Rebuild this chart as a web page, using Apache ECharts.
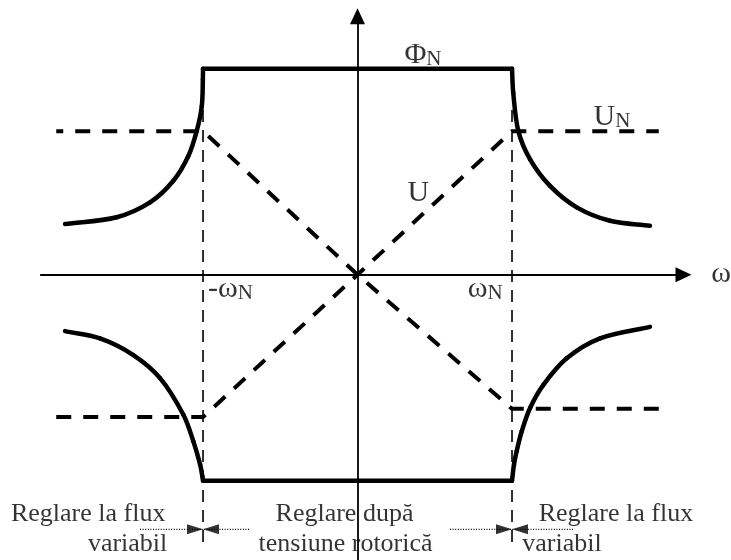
<!DOCTYPE html>
<html>
<head>
<meta charset="utf-8">
<script src="https://cdn.jsdelivr.net/npm/echarts@6/dist/echarts.min.js"></script>
<style>
  html, body { margin: 0; padding: 0; background: #ffffff; }
  #chart { width: 731px; height: 560px; }
</style>
</head>
<body>
<div id="chart"></div>
<script>
// Flux and rotor voltage versus speed, in per-unit: ω/ωN on x, Φ/ΦN (and U/ΦN scale) on y.

// Constant-flux plateau (rotor-voltage control region)
const fluxTop = [[-1, 1], [1, 1]];
const fluxBottom = [[-1, -1], [1, -1]];

// Field-weakening branches, sampled [ω, Φ]
const fluxUpperLeft = [[-1.000, 1.000], [-1.001, 0.947], [-1.008, 0.818], [-1.041, 0.697], [-1.095, 0.576],
                       [-1.192, 0.456], [-1.343, 0.351], [-1.559, 0.279], [-1.893, 0.246]];
const fluxUpperRight = [[1.000, 1.000], [1.008, 0.883], [1.041, 0.697], [1.117, 0.560], [1.246, 0.431],
                        [1.419, 0.327], [1.634, 0.262], [1.893, 0.238]];
const fluxLowerLeft = [[-1.893, -0.274], [-1.667, -0.309], [-1.451, -0.390], [-1.278, -0.502], [-1.127, -0.680],
                       [-1.063, -0.808], [-1.019, -0.921], [-1.004, -0.980], [-1.000, -1.000]];
const fluxLowerRight = [[1.000, -1.000], [1.013, -0.921], [1.030, -0.857], [1.063, -0.760], [1.117, -0.647],
                        [1.203, -0.535], [1.354, -0.406], [1.570, -0.309], [1.893, -0.253]];

// Rotor voltage: linear up to ωN, then held at UN
const voltageA = [[-1.95, 0.697], [-1, 0.697], [0, 0], [1, -0.651], [1.95, -0.651]];
const voltageB = [[-1.95, -0.691], [-1, -0.691], [0, 0], [1, 0.697], [1.95, 0.697]];

// Boundaries of the control regions at ±ωN
const boundaryLeft = [[-1, 0.80], [-1, -1.30]];
const boundaryRight = [[1, 0.80], [1, -1.30]];

// Region markers below the plot
const zoneArrowLevel = -1.236;
const zoneArrowTails = [-1.408, -0.702, 0.599, 1.395];
const zoneArrowHeads = [-1, -1, 1, 1];

// Curve and axis labels with their anchor points
const curveLabels = ['{m|Φ}{s|N}', '{m|U}{s|N}', '{m|U}', '{m|-ω}{s|N}', '{m|ω}{s|N}', '{m|ω}'];
const curveLabelAnchors = [[0.307, 0.99], [1.531, 0.691], [0.327, 0.319], [-0.964, -0.145], [0.717, -0.145], [2.293, -0.072]];

const zoneLabels = ['Reglare la flux', 'variabil', 'Reglare după', 'tensiune rotorică', 'Reglare la flux', 'variabil'];
const zoneLabelAnchors = [[-1.740, -1.228], [-1.485, -1.373], [-0.081, -1.228], [-0.074, -1.373], [1.676, -1.228], [1.327, -1.373]];

const SERIF = '"Liberation Serif", "Times New Roman", serif';
const INK = '#000000';

function solidLine(data) {
  return {
    type: 'line', data: data, symbol: 'none', clip: false, silent: true, z: 4,
    lineStyle: { color: INK, width: 4.5, cap: 'round', join: 'round' }
  };
}
function dashedLine(data, width, dash, z, offset) {
  return {
    type: 'line', data: data, symbol: 'none', clip: false, silent: true, z: z,
    lineStyle: { color: INK, width: width, type: dash, dashOffset: offset || 0, cap: 'butt', join: 'miter' }
  };
}

// Smooth curve through the sampled points: chord-length Hermite spline,
// converted to cubic Bézier segments in screen space.
function smoothCurve(points) {
  return {
    type: 'custom', data: points, clip: false, silent: true, z: 4,
    renderItem: function (params, api) {
      if (params.dataIndex !== 0) return null;
      const p = points.map(function (d) { return api.coord(d); });
      const n = p.length;
      const dist = function (a, b) { return Math.hypot(b[0] - a[0], b[1] - a[1]) || 1e-6; };
      const tangents = p.map(function (pt, i) {
        const a = p[Math.max(i - 1, 0)], b = p[Math.min(i + 1, n - 1)];
        const len = (i > 0 ? dist(p[i - 1], pt) : 0) + (i < n - 1 ? dist(pt, p[i + 1]) : 0);
        return [(b[0] - a[0]) / len, (b[1] - a[1]) / len];
      });
      const children = [];
      for (let i = 0; i < n - 1; i++) {
        const d = dist(p[i], p[i + 1]) / 3;
        children.push({
          type: 'bezierCurve',
          shape: {
            x1: p[i][0], y1: p[i][1], x2: p[i + 1][0], y2: p[i + 1][1],
            cpx1: p[i][0] + tangents[i][0] * d, cpy1: p[i][1] + tangents[i][1] * d,
            cpx2: p[i + 1][0] - tangents[i + 1][0] * d, cpy2: p[i + 1][1] - tangents[i + 1][1] * d
          },
          style: { fill: null, stroke: INK, lineWidth: 4.5, lineCap: 'round' }
        });
      }
      return { type: 'group', children: children };
    }
  };
}

const series = [
  dashedLine(boundaryLeft, 1.6, [12, 8], 2),
  dashedLine(boundaryRight, 1.6, [12, 8], 2),
  dashedLine(voltageA, 4, [15, 12], 3, 8),
  dashedLine(voltageB, 4, [15, 12], 3),
  solidLine(fluxTop),
  solidLine(fluxBottom),
  smoothCurve(fluxUpperLeft),
  smoothCurve(fluxUpperRight),
  smoothCurve(fluxLowerLeft),
  smoothCurve(fluxLowerRight)
];

// dotted leaders pointing at the region boundaries
zoneArrowTails.forEach(function (tail, i) {
  series.push(dashedLine([[tail, zoneArrowLevel], [zoneArrowHeads[i], zoneArrowLevel]], 1.2, [1, 1.6], 2));
});
series.push({
  type: 'scatter', silent: true, clip: false, z: 5,
  symbol: 'triangle', symbolSize: [10, 16],
  itemStyle: { color: INK },
  data: zoneArrowHeads.map(function (head, i) {
    const pointsRight = zoneArrowTails[i] < head;
    return {
      value: [head, zoneArrowLevel],
      symbolRotate: pointsRight ? -90 : 90,
      symbolOffset: pointsRight ? [-8, 0] : [8, 0]
    };
  })
});

// text labels
function textSeries(texts, anchors, align, labelStyle) {
  return {
    type: 'scatter', silent: true, clip: false, z: 6,
    symbolSize: 1, itemStyle: { color: 'transparent' },
    label: Object.assign({
      show: true, position: [0, 0], align: align, verticalAlign: 'bottom',
      formatter: '{b}', color: INK, fontFamily: SERIF
    }, labelStyle),
    data: anchors.map(function (a, i) { return { name: texts[i], value: a }; })
  };
}
series.push(textSeries(curveLabels, curveLabelAnchors, 'left', {
  rich: {
    m: { fontFamily: SERIF, fontSize: 30, lineHeight: 30, color: INK, verticalAlign: 'bottom' },
    s: { fontFamily: SERIF, fontSize: 21, lineHeight: 21, color: INK, verticalAlign: 'bottom' }
  }
}));
series.push(textSeries(zoneLabels, zoneLabelAnchors, 'center', { fontSize: 26, lineHeight: 26 }));

const chart = echarts.init(document.getElementById('chart'), null, { renderer: 'canvas' });
chart.setOption({
  backgroundColor: '#ffffff',
  animation: false,
  grid: { left: 40.8, right: 47.5, top: 16.2, bottom: -2.7, containLabel: false },
  xAxis: {
    type: 'value', min: -2.05, max: 2.11,
    axisLine: { show: true, onZero: true, symbol: ['none', 'triangle'], symbolSize: [15, 16],
                lineStyle: { color: INK, width: 1.8 } },
    axisTick: { show: false }, axisLabel: { show: false }, splitLine: { show: false }
  },
  yAxis: {
    type: 'value', min: -1.385, max: 1.255,
    axisLine: { show: true, onZero: true, symbol: ['none', 'triangle'], symbolSize: [15, 16],
                lineStyle: { color: INK, width: 1.8 } },
    axisTick: { show: false }, axisLabel: { show: false }, splitLine: { show: false }
  },
  series: series
});
</script>
</body>
</html>
